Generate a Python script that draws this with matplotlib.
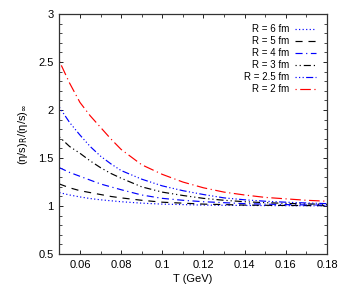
import matplotlib
matplotlib.use("Agg")
import matplotlib.pyplot as plt
from matplotlib.ticker import MultipleLocator

plt.rcParams["font.family"] = ["Liberation Sans", "DejaVu Sans"]
plt.rcParams["mathtext.fontset"] = "dejavusans"

# temperature grid (GeV)
T = [0.05, 0.055, 0.06, 0.065, 0.07, 0.075, 0.08, 0.09, 0.10, 0.11, 0.12,
     0.13, 0.14, 0.15, 0.16, 0.17, 0.18]

# (eta/s)_R / (eta/s)_inf
r6 = [1.14, 1.115, 1.095, 1.078, 1.065, 1.055, 1.045, 1.03, 1.02, 1.015, 1.01,
      1.008, 1.006, 1.005, 1.004, 1.003, 1.003]
r5 = [1.23, 1.19, 1.16, 1.14, 1.12, 1.10, 1.085, 1.06, 1.04, 1.03, 1.02,
      1.015, 1.01, 1.008, 1.006, 1.005, 1.004]
r4 = [1.40, 1.35, 1.31, 1.27, 1.23, 1.20, 1.17, 1.115, 1.08, 1.06, 1.045,
      1.035, 1.025, 1.02, 1.015, 1.012, 1.01]
r3 = [1.72, 1.62, 1.55, 1.47, 1.40, 1.34, 1.29, 1.20, 1.145, 1.11, 1.08,
      1.06, 1.045, 1.035, 1.028, 1.022, 1.018]
r25 = [2.03, 1.87, 1.74, 1.62, 1.52, 1.44, 1.37, 1.28, 1.21, 1.16, 1.12,
       1.085, 1.065, 1.05, 1.04, 1.032, 1.025]
r2 = [2.51, 2.28, 2.08, 1.94, 1.82, 1.70, 1.59, 1.43, 1.33, 1.25, 1.19,
      1.145, 1.115, 1.09, 1.075, 1.06, 1.05]

labels = ["R = 6 fm", "R = 5 fm", "R = 4 fm", "R = 3 fm", "R = 2.5 fm", "R = 2 fm"]
series = [r6, r5, r4, r3, r25, r2]
colors = ["#0000ff", "black", "#0000ff", "black", "#0000ff", "#ff0000"]
styles = [
    (0, (1, 2)),
    (0, (6, 5)),
    (0, (6, 3, 1, 3)),
    (0, (1, 2.5, 1, 2.5, 6, 2.5)),
    (0, (1, 2, 1, 2, 1, 2, 6, 2)),
    (0, (1, 3, 9, 3)),
]

fig = plt.figure(figsize=(3.49, 2.93), dpi=100)
ax = fig.add_axes([0.170, 0.133, 0.767, 0.819])

for y, lab, c, ls in zip(series, labels, colors, styles):
    ax.plot(T, y, color=c, linestyle=ls, linewidth=0.85, label=lab)

ax.set_xlim(0.05, 0.18)
ax.set_ylim(0.5, 3)
ax.xaxis.set_minor_locator(MultipleLocator(0.01))
ax.yaxis.set_minor_locator(MultipleLocator(0.1))
ax.set_xticks([0.06, 0.08, 0.10, 0.12, 0.14, 0.16, 0.18])
ax.set_xticklabels(["0.06", "0.08", "0.1", "0.12", "0.14", "0.16", "0.18"])
ax.set_yticks([0.5, 1, 1.5, 2, 2.5, 3])
ax.set_yticklabels(["0.5", "1", "1.5", "2", "2.5", "3"])
ax.tick_params(which="both", direction="in", top=True, right=True, labelsize=8, pad=4)
ax.tick_params(which="major", length=3, width=0.6)
ax.tick_params(which="minor", length=2, width=0.5)
for s in ax.spines.values():
    s.set_linewidth(0.9)
    s.set_color("#333333")

ax.set_xlabel("T (GeV)", fontsize=8, labelpad=3)
ax.set_ylabel(r"(η/s)$_\mathrm{R}$/(η/s)$_\infty$", fontsize=8, labelpad=6)

ax.legend(loc="upper right", frameon=False, markerfirst=False, fontsize=7,
          handlelength=2.2, handletextpad=0.6, labelspacing=0.2,
          borderaxespad=0.3, bbox_to_anchor=(0.985, 0.985))

fig.savefig("out.png", dpi=100)
